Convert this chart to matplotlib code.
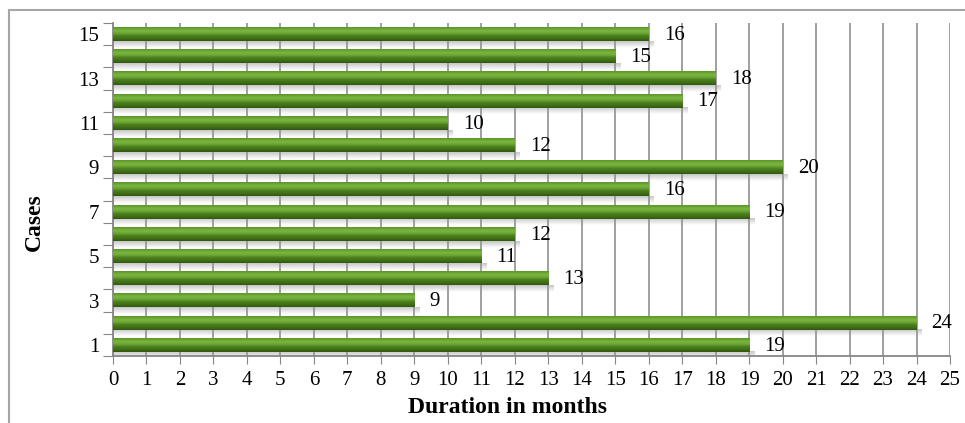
import matplotlib.pyplot as plt
import matplotlib.patches as patches
import numpy as np
from matplotlib.colors import LinearSegmentedColormap

plt.rcParams["font.family"] = ["Liberation Serif", "DejaVu Serif"]

cases = list(range(1, 16))
durations = [19, 24, 9, 13, 11, 12, 19, 16, 20, 12, 10, 17, 18, 15, 16]
x_ticks = list(range(0, 26))

bar_h = 0.63
# top -> bottom shading of the cylinder-like bars
green = LinearSegmentedColormap.from_list(
    "bar", [(0.0, "#5a9428"), (0.25, "#7cb840"), (0.45, "#6aa532"),
            (0.6, "#4d8220"), (0.85, "#3e6c15"), (1.0, "#30560c")])
grad = np.linspace(0, 1, 64).reshape(-1, 1)

# shadow: grey fading downwards
shadow = np.zeros((32, 1, 4))
shadow[..., :3] = 0.6
shadow[:, 0, 3] = np.linspace(0.55, 0.0, 32)

fig = plt.figure(figsize=(9.65, 4.23), dpi=100)
ax = fig.add_axes([113 / 965, 1 - 356 / 423, 837 / 965, 333 / 423])

ypos = np.arange(len(cases))

for y, v in zip(ypos, durations):
    ax.imshow(shadow, aspect="auto", interpolation="bilinear",
              extent=(0, v + 0.15, y - bar_h / 2 - 0.3, y - bar_h / 2), zorder=2)
    ax.imshow(grad, cmap=green, aspect="auto", interpolation="bicubic",
              extent=(0, v, y - bar_h / 2, y + bar_h / 2), zorder=3)
    ax.text(v + 0.45, y - 0.05, str(v), va="center", ha="left", fontsize=15)

ax.set_xlim(0, 25)
ax.set_ylim(-0.5, len(cases) - 0.5)

ax.set_xticks(x_ticks)
ax.set_xticklabels([str(t) for t in x_ticks])
ax.set_yticks(np.arange(-0.5, len(cases), 1.0))
ax.set_yticklabels([])
ax.set_yticks(ypos[::2], minor=True)
ax.set_yticklabels([str(c) for c in cases[::2]], minor=True)

ax.tick_params(axis="x", length=6, color="#868686", labelsize=15, pad=5)
ax.tick_params(axis="y", which="major", length=7, color="#868686")
ax.tick_params(axis="y", which="minor", length=0, labelsize=15, pad=10)

ax.grid(axis="x", color="#999999", linewidth=1.3, zorder=1)
ax.set_axisbelow(True)
for side in ["top", "right"]:
    ax.spines[side].set_visible(False)
for side in ["left", "bottom"]:
    ax.spines[side].set_color("#868686")
    ax.spines[side].set_linewidth(1.3)

ax.set_xlabel("Duration in months", fontsize=17, fontweight="bold")
ax.set_ylabel("Cases", fontsize=17, fontweight="bold")
ax.xaxis.set_label_coords(0.471, -0.156)
ax.xaxis.label.set_va("center")
ax.yaxis.set_label_coords(-0.0944, 0.402)
ax.yaxis.label.set_va("center")

# outer chart border (cropped on right and bottom)
fig.patches.append(patches.Rectangle((9 / 965, -0.2), 1.5, 1.2 - 10 / 423,
                                     transform=fig.transFigure, fill=False,
                                     edgecolor="#a6a6a6", linewidth=1.5))

fig.savefig("out.png", dpi=100)
